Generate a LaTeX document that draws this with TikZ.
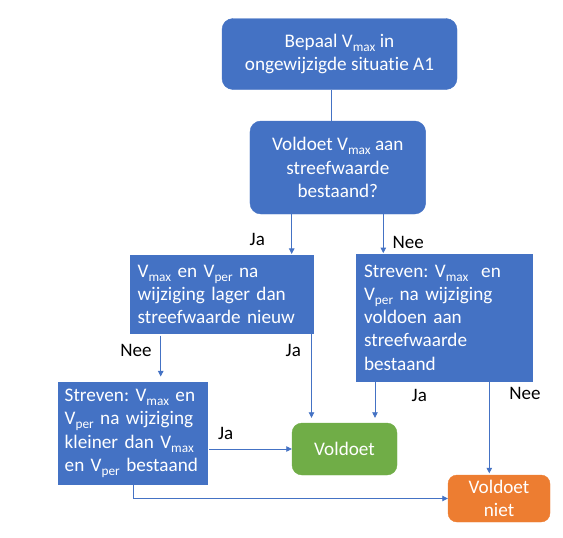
\documentclass[tikz,border=0pt]{standalone}
\usepackage{fontspec}
\setmainfont{Carlito}[Ligatures=NoCommon]
\frenchspacing
\usetikzlibrary{arrows.meta}
\definecolor{boxblue}{HTML}{4472C4}
\definecolor{boxgreen}{HTML}{70AD47}
\definecolor{boxorange}{HTML}{ED7D31}
\newcommand\onder[1]{\raisebox{-4pt}{\fontsize{13.3}{13.3}\selectfont #1}}
\tikzset{
  box/.style={fill=boxblue, draw=boxblue, text=white, inner sep=0pt, font=\fontsize{19.2}{23.2}\selectfont},
  rbox/.style={box, rounded corners=11pt, align=center},
  sbox/.style={box, align=left, inner xsep=8pt},
  lijn/.style={draw=boxblue, line width=0.8pt},
  pijl/.style={lijn, -{Triangle[width=5.5pt,length=5.5pt]}},
  lbl/.style={font=\fontsize{19}{20}\selectfont, text=black}
}
\begin{document}
\begin{tikzpicture}[x=1pt, y=-1pt]
\useasboundingbox (0,0) rectangle (563,538);
\node[rbox, minimum width=235pt, minimum height=71pt] (bepaal) at (339.5,54)
  {Bepaal V\onder{max} in\\ongewijzigde situatie A1};
\node[rbox, minimum width=175.7pt, minimum height=93pt] (vraag) at (337.8,167.5)
  {Voldoet V\onder{max} aan\\streefwaarde\\bestaand?};
\node[sbox, inner xsep=7pt, text width=168.7pt, minimum height=77.3pt] (lager) at (222,294.3)
  {V\onder{max} en V\onder{per} na\\wijziging lager dan\\streefwaarde nieuw};
\node[sbox, text width=160.3pt, minimum height=126.4pt] (strevenA) at (444.2,317.5)
  {Streven: V\onder{max}\ \ en\\V\onder{per} na wijziging\\voldoen aan\\streefwaarde\\bestaand};
\node[sbox, inner xsep=7pt, text width=135.6pt, minimum height=101.3pt] (strevenB) at (132.5,433.3)
  {Streven: V\onder{max} en\\V\onder{per} na wijziging\\kleiner dan V\onder{max}\\en V\onder{per} bestaand};
\node[rbox, fill=boxgreen, draw=boxgreen, rounded corners=10pt, minimum width=105pt, minimum height=52pt] (voldoet) at (344.5,449)
  {Voldoet};
\node[rbox, fill=boxorange, draw=boxorange, rounded corners=9pt, minimum width=102pt, minimum height=47pt] (voldoetniet) at (499,498.5)
  {Voldoet\\niet};

\coordinate (k1) at (331.7,0);
\coordinate (k2) at (291.7,0);
\coordinate (k3) at (383.3,0);
\coordinate (k4) at (160.7,0);
\coordinate (k5) at (311.5,0);
\coordinate (k6) at (375,0);
\coordinate (k7) at (489.3,0);
\coordinate (k8) at (133.3,0);

\draw[lijn] (bepaal.south -| k1) -- (vraag.north -| k1);
\draw[pijl, shorten >=1.5pt] (vraag.south -| k2) -- (lager.north -| k2);
\draw[pijl, shorten >=1pt] (vraag.south -| k3) -- (strevenA.north -| k3);
\draw[pijl, shorten <=2.5pt, shorten >=6pt] (lager.south -| k4) -- (strevenB.north -| k4);
\draw[pijl, shorten >=5pt] (lager.south -| k5) -- (voldoet.north -| k5);
\draw[pijl, shorten >=5pt] (strevenA.south -| k6) -- (voldoet.north -| k6);
\draw[pijl, shorten >=1.5pt] (strevenA.south -| k7) -- (voldoetniet.north -| k7);
\draw[pijl, shorten <=1.5pt] (strevenB.east |- voldoet.west) -- (voldoet.west);
\draw[pijl] (strevenB.south -| k8) |- (voldoetniet.west);

\node[lbl] (ja1) at (257.3,239.3) {Ja};
\node[lbl] (nee1) at (408.3,242.3) {Nee};
\node[lbl] (nee2) at (136,350) {Nee};
\node[lbl] (ja2) at (293.3,350) {Ja};
\node[lbl] (ja3) at (419.3,395) {Ja};
\node[lbl] (nee3) at (525,393.3) {Nee};
\node[lbl] (ja4) at (225.7,433.3) {Ja};
\end{tikzpicture}
\end{document}
